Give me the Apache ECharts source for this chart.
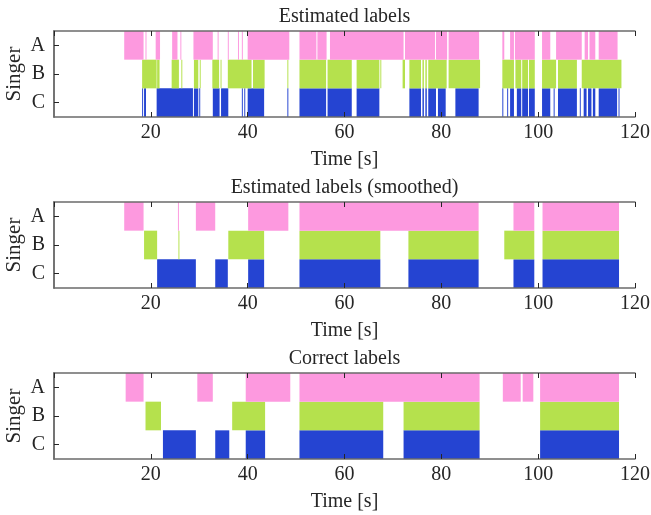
<!DOCTYPE html>
<html>
<head>
<meta charset="utf-8">
<script src="https://cdn.jsdelivr.net/npm/echarts@6/dist/echarts.min.js"></script>
<style>
  html, body { margin: 0; padding: 0; background: #fff; }
  #chart { width: 651px; height: 515px; }
</style>
</head>
<body>
<div id="chart"></div>
<script>
// singer rows, bottom to top
const singers = ['C', 'B', 'A'];
const xTicks = [20, 40, 60, 80, 100, 120];
const panelTitles = ['Estimated labels', 'Estimated labels (smoothed)', 'Correct labels'];

// segments [start, end] in seconds
const estA = [[14.5,18.5],[18.9,19.1],[21.0,21.9],[24.4,25.5],[26.1,26.3],[28.8,32.8],[33.8,34.0],[35.9,36.1],[38.0,38.2],[38.8,39.0],
  [40.0,48.6],[50.7,54.2],[54.4,56.3],[57.0,72.2],[72.5,78.7],[78.9,81.2],[81.5,87.8],[92.6,93.0],[94.2,95.0],[95.2,99.3],
  [100.8,102.5],[103.7,109.0],[109.6,110.3],[110.6,111.8],[112.5,116.4]];
const estB = [[18.2,21.2],[21.3,21.8],[24.3,25.8],[26.3,26.5],[28.9,29.8],[30.1,30.3],[32.7,34.1],[34.4,34.6],[35.9,40.8],[41.1,43.5],
  [48.2,48.4],[50.7,56.2],[56.5,61.5],[62.5,67.2],[67.4,67.6],[72.0,72.5],[73.4,75.8],[76.1,76.4],[76.7,77.0],[77.3,81.1],
  [81.5,88.0],[92.6,95.0],[95.3,96.5],[96.7,97.9],[98.1,99.3],[100.8,103.7],[104.1,108.0],[109.0,117.2]];
const estC = [[18.2,18.4],[18.6,19.0],[21.2,28.7],[28.9,29.8],[30.0,30.2],[32.8,34.2],[34.5,36.0],[38.8,39.0],[39.3,39.5],[40.0,43.4],
  [48.2,48.4],[50.7,56.2],[56.5,61.5],[62.5,67.2],[73.4,75.8],[76.1,76.4],[76.7,77.0],[77.3,78.9],[79.3,80.9],[82.9,87.7],
  [92.6,92.8],[93.6,93.8],[94.2,95.0],[95.6,96.5],[96.7,97.9],[98.1,99.3],[100.8,102.5],[103.2,103.4],[104.1,108.0],[108.6,108.8],
  [109.4,110.0],[110.3,111.0],[111.3,111.8],[112.5,116.3],[116.6,116.8]];

const smA = [[14.5,18.5],[25.6,25.8],[29.3,33.3],[40.1,48.4],[50.7,87.7],[94.9,99.2],[100.9,116.7]];
const smB = [[18.6,21.3],[25.7,25.9],[36.0,43.4],[50.7,67.4],[73.2,87.7],[93.0,99.2],[100.9,116.7]];
const smC = [[21.3,29.3],[33.3,35.9],[40.1,43.4],[50.7,67.4],[73.2,87.7],[94.9,99.2],[100.9,116.7]];

const trA = [[14.8,18.5],[29.6,32.8],[39.6,48.8],[50.7,87.9],[92.7,96.4],[96.8,99.0],[100.4,116.7]];
const trB = [[18.9,22.1],[36.8,43.6],[50.7,68.0],[72.2,87.9],[100.4,116.7]];
const trC = [[22.5,29.3],[33.3,36.2],[39.6,43.6],[50.7,68.0],[72.2,87.9],[100.4,116.7]];

const panels = [
  { A: estA, B: estB, C: estC },
  { A: smA, B: smB, C: smC },
  { A: trA, B: trB, C: trC }
];
const colors = { A: '#fd99df', B: '#b5e14d', C: '#2544d2' };

const font = 'Liberation Serif';
const ink = '#262626';
const frame = '#6b6b6b';
const gridTops = [31, 202, 373];
const plotLeft = 54, plotWidth = 581, plotHeight = 86;

function renderBar(params, api) {
    const row = api.value(2);
    const p0 = api.coord([api.value(0), row]);
    const p1 = api.coord([api.value(1), row]);
    const h = api.size([0, 1])[1];
    const rect = echarts.graphic.clipRectByRect({
        x: p0[0], y: p0[1] - h / 2, width: p1[0] - p0[0], height: h
    }, params.coordSys);
    return rect && { type: 'rect', shape: rect, style: api.style() };
}

const grid = [], xAxis = [], yAxis = [], series = [], graphic = [];
gridTops.forEach(function (top, i) {
    grid.push({ left: plotLeft, top: top, width: plotWidth, height: plotHeight,
        containLabel: false, outerBoundsMode: 'none' });
    xAxis.push({
        gridIndex: i, type: 'value', min: 0, max: 120, interval: 20, z: 5,
        name: 'Time [s]', nameLocation: 'middle', nameGap: 33, nameMoveOverlap: false,
        nameTextStyle: { fontFamily: font, fontSize: 20, color: ink },
        axisLine: { show: true, lineStyle: { color: frame, width: 1.5 } },
        axisTick: { show: true, inside: true, length: 5, lineStyle: { color: ink } },
        axisLabel: { showMinLabel: false, margin: 6, fontFamily: font, fontSize: 20, color: ink,
            formatter: function (v) { return xTicks.indexOf(v) >= 0 ? String(v) : ''; } },
        splitLine: { show: false }
    });
    xAxis.push({
        gridIndex: i, type: 'value', position: 'top', min: 0, max: 120, interval: 20, z: 5,
        axisLine: { show: true, lineStyle: { color: frame, width: 1.5 } },
        axisTick: { show: true, inside: true, length: 5, lineStyle: { color: ink } },
        axisLabel: { show: false }, splitLine: { show: false }
    });
    yAxis.push({
        gridIndex: i, type: 'category', data: singers, z: 5,
        name: 'Singer', nameLocation: 'middle', nameGap: 29, nameRotate: 90, nameMoveOverlap: false,
        nameTextStyle: { fontFamily: font, fontSize: 21, color: ink },
        axisLine: { show: true, lineStyle: { color: frame, width: 1.5 } },
        axisTick: { show: true, inside: true, length: 5, alignWithLabel: true, lineStyle: { color: ink } },
        axisLabel: { margin: 9, fontFamily: font, fontSize: 20, color: ink }
    });
    yAxis.push({
        gridIndex: i, type: 'category', data: singers, position: 'right', z: 5,
        axisLine: { show: true, lineStyle: { color: frame, width: 1.5 } },
        axisTick: { show: false }, axisLabel: { show: false }
    });
    singers.forEach(function (s, row) {
        series.push({
            type: 'custom', xAxisIndex: i * 2, yAxisIndex: i * 2, z: 1,
            renderItem: renderBar,
            itemStyle: { color: colors[s] },
            encode: { x: [0, 1], y: 2 },
            data: panels[i][s].map(function (seg) { return [seg[0], seg[1], row]; })
        });
    });
    graphic.push({
        type: 'text', x: plotLeft + plotWidth / 2, y: top - 14,
        style: { text: panelTitles[i], fill: ink, font: '20px "' + font + '"',
            align: 'center', verticalAlign: 'middle' }
    });
});

const myChart = echarts.init(document.getElementById('chart'), null, { renderer: 'canvas' });
myChart.setOption({
    animation: false,
    backgroundColor: '#fff',
    grid: grid,
    xAxis: xAxis,
    yAxis: yAxis,
    series: series,
    graphic: graphic
});
</script>
</body>
</html>
